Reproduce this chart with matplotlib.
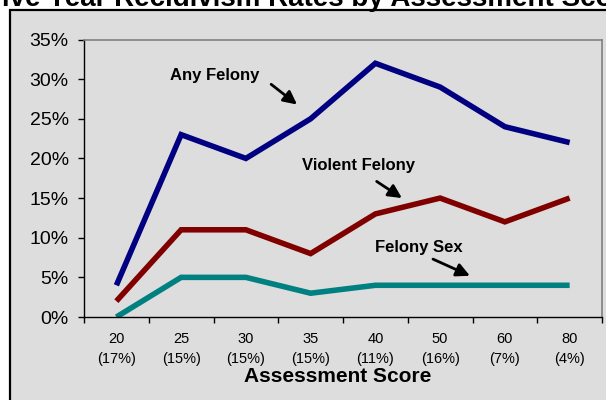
import matplotlib.pyplot as plt
import matplotlib.patches as patches

# data
scores = ["20", "25", "30", "35", "40", "50", "60", "80"]
shares = ["(17%)", "(15%)", "(15%)", "(15%)", "(11%)", "(16%)", "(7%)", "(4%)"]
any_felony = [4, 23, 20, 25, 32, 29, 24, 22]
violent_felony = [2, 11, 11, 8, 13, 15, 12, 15]
felony_sex = [0, 5, 5, 3, 4, 4, 4, 4]

plt.rcParams['font.family'] = ['Liberation Sans', 'DejaVu Sans']

W, H = 606, 400
fig = plt.figure(figsize=(W / 100, H / 100), dpi=100)
fig.patch.set_facecolor('white')

# grey chart area with black border (runs off the right/bottom edge)
frame = patches.Rectangle((10 / W, -0.1), 1.2, 1 - 10 / H + 0.1,
                          transform=fig.transFigure, facecolor='#DDDDDD',
                          edgecolor='black', linewidth=1.6, zorder=-1)
fig.add_artist(frame)

ax = fig.add_axes([84 / W, 1 - 317 / H, (602 - 84) / W, (317 - 39.5) / H])
ax.set_facecolor('#DDDDDD')

x = list(range(len(scores)))
ax.plot(x, any_felony, color='#000080', lw=4, solid_joinstyle='miter', solid_capstyle='butt')
ax.plot(x, violent_felony, color='#800000', lw=4, solid_joinstyle='miter', solid_capstyle='butt')
ax.plot(x, felony_sex, color='#008080', lw=4, solid_joinstyle='miter', solid_capstyle='butt')

ax.set_xlim(-0.5, len(scores) - 0.5)
ax.set_ylim(0, 35)
ax.set_yticks(range(0, 36, 5))
ax.set_yticklabels([str(v) + "%" for v in range(0, 36, 5)], fontsize=14)
ax.tick_params(axis='y', direction='out', length=4, width=1, pad=7, color='black')

ax.set_xticks(x)
ax.set_xticklabels([s + "\n" + p for s, p in zip(scores, shares)], fontsize=10.5, linespacing=1.5)
ax.tick_params(axis='x', which='major', length=0, pad=11)
ax.set_xticks([i - 0.5 for i in range(len(scores) + 1)], minor=True)
ax.tick_params(axis='x', which='minor', direction='out', length=4, width=1, color='black')

for side in ['top', 'right']:
    ax.spines[side].set_color('#808080')
    ax.spines[side].set_linewidth(1.2)
for side in ['left', 'bottom']:
    ax.spines[side].set_color('black')
    ax.spines[side].set_linewidth(1)

# line labels with arrows
arrow = dict(arrowstyle='-|>', color='black', lw=2, mutation_scale=20, shrinkA=0, shrinkB=0)
ax.text(1.52, 30.5, "Any Felony", fontsize=12, fontweight='bold', ha='center', va='center')
ax.annotate("", xy=(2.79, 26.8), xytext=(2.39, 29.35), arrowprops=arrow)
ax.text(3.74, 19.1, "Violent Felony", fontsize=12, fontweight='bold', ha='center', va='center')
ax.annotate("", xy=(4.41, 15.0), xytext=(4.02, 17.1), arrowprops=arrow)
ax.text(4.67, 8.8, "Felony Sex", fontsize=12, fontweight='bold', ha='center', va='center')
ax.annotate("", xy=(5.46, 5.2), xytext=(4.89, 7.3), arrowprops=arrow)

fig.text(338 / W, 1 - 382 / H, "Assessment Score", fontsize=15, fontweight='bold',
         ha='center', va='baseline')
fig.text(312 / W, 1 - 6.5 / H, "Five Year Recidivism Rates by Assessment Score",
         fontsize=20, fontweight='bold', ha='center', va='baseline')

fig.savefig("out.png", dpi=100)
